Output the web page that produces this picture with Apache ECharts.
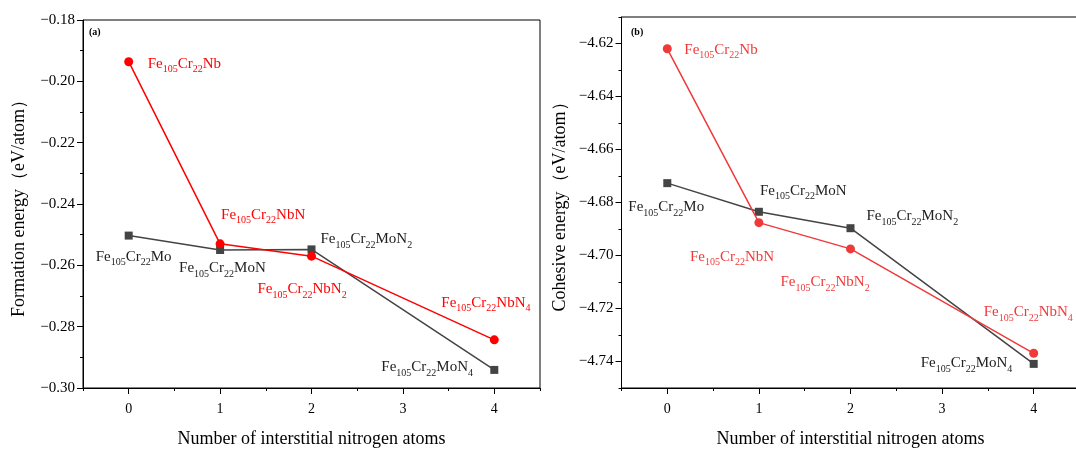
<!DOCTYPE html>
<html>
<head>
<meta charset="utf-8">
<script src="https://cdn.jsdelivr.net/npm/echarts@6/dist/echarts.min.js"></script>
<style>html,body{margin:0;padding:0;background:#fff;}#c{width:1076px;height:449px;}</style>
</head>
<body>
<div id="c"></div>
<script>
// ---- data ----
const nitrogen = [0, 1, 2, 4];
const formationMo = [-0.2503, -0.2550, -0.2548, -0.2941];
const formationNb = [-0.1936, -0.2530, -0.2570, -0.2843];
const cohesiveMo = [-4.6727, -4.6835, -4.6897, -4.7409];
const cohesiveNb = [-4.6220, -4.6876, -4.6975, -4.7369];
const moSuffix = ['Mo', 'MoN', 'MoN|2', 'MoN|4'];
const nbSuffix = ['Nb', 'NbN', 'NbN|2', 'NbN|4'];
const xTicks = [0, 1, 2, 3, 4];
const xMinorTicks = [-0.5, 0.5, 1.5, 2.5, 3.5, 4.5];
const cohTicks = [-4.74, -4.72, -4.70, -4.68, -4.66, -4.64, -4.62];
const cohMinorTicks = [-4.75, -4.73, -4.71, -4.69, -4.67, -4.65, -4.63, -4.61];

// ---- label placement (pixel offsets from the point) ----
const offFormMo = [[-33, 21], [-41, 18], [9, -10], [-113, -3]];
const offFormNb = [[19, 2], [1, -29], [-54, 33], [-53, -37]];
const offCohMo = [[-39, 24], [1, -21], [16, -12], [-113, -1]];
const offCohNb = [[17, 1], [-69, 34], [-70, 33], [-50, -41]];

const FONT = 'Liberation Serif';
const RED1 = '#ff0000', RED2 = '#f03a3a', GRAY = '#444444';

function formula(suffix) {
  const parts = suffix.split('|');
  let s = '{m|Fe}{s|105}{m|Cr}{s|22}{m|' + parts[0] + '}';
  if (parts[1]) s += '{s|' + parts[1] + '}';
  return s;
}
function richFor(color) {
  return {
    m: { fontFamily: FONT, fontSize: 15, color: color, lineHeight: 22, verticalAlign: 'middle' },
    s: { fontFamily: FONT, fontSize: 10, color: color, lineHeight: 10, verticalAlign: 'bottom' }
  };
}
function buildData(ys, names, offs, color) {
  return ys.map((y, i) => ({
    value: [nitrogen[i], y],
    label: {
      show: true, position: 'inside', align: 'left', verticalAlign: 'middle',
      offset: offs[i], formatter: formula(names[i]), rich: richFor(color)
    }
  }));
}
const minus = v => String(v).replace('-', '\u2212');

const axisText = { fontFamily: FONT, fontSize: 15, color: '#000' };
const nameText = { fontFamily: FONT, fontSize: 18, color: '#000' };
const lineStyleAx = { color: '#000', width: 1 };

function xMain(grid) {
  return {
    type: 'value', gridIndex: grid, min: -0.5, max: 4.5, position: 'bottom',
    name: 'Number of interstitial nitrogen atoms', nameLocation: 'middle', nameGap: 42,
    nameTextStyle: nameText,
    axisLine: { onZero: false, lineStyle: lineStyleAx },
    axisTick: { show: true, length: 6, customValues: xTicks, lineStyle: lineStyleAx },
    axisLabel: { customValues: xTicks, margin: 14, fontFamily: FONT, fontSize: 14, color: '#000' },
    splitLine: { show: false }
  };
}
function xMinor(grid) {
  return {
    type: 'value', gridIndex: grid, min: -0.5, max: 4.5, position: 'bottom',
    axisLine: { show: false, onZero: false },
    axisTick: { show: true, length: 3, customValues: xMinorTicks, lineStyle: lineStyleAx },
    axisLabel: { show: false },
    splitLine: { show: false }
  };
}

const option = {
  animation: false,
  backgroundColor: '#fff',
  grid: [
    { left: 83, top: 20, width: 457, height: 368, outerBoundsMode: 'none', containLabel: false, show: true, borderColor: '#000', borderWidth: 1, backgroundColor: 'transparent' },
    { left: 621.5, top: 17, width: 458, height: 371, outerBoundsMode: 'none', containLabel: false, show: true, borderColor: '#000', borderWidth: 1, backgroundColor: 'transparent' }
  ],
  xAxis: [xMain(0), xMinor(0), xMain(1), xMinor(1)],
  yAxis: [
    {
      type: 'value', gridIndex: 0, min: -0.30, max: -0.18, interval: 0.02, position: 'left',
      name: 'Formation energy\uff08eV/atom\uff09', nameLocation: 'middle', nameGap: 55,
      nameTextStyle: nameText,
      axisLine: { onZero: false, lineStyle: lineStyleAx },
      axisTick: { length: 6, lineStyle: lineStyleAx },
      minorTick: { show: true, splitNumber: 2, length: 3, lineStyle: lineStyleAx },
      axisLabel: Object.assign({ margin: 8, formatter: v => minus(v.toFixed(2)) }, axisText),
      splitLine: { show: false }, minorSplitLine: { show: false }
    },
    {
      type: 'value', gridIndex: 1, min: -4.75, max: -4.61, position: 'left',
      name: 'Cohesive energy\uff08eV/atom\uff09', nameLocation: 'middle', nameGap: 52,
      nameTextStyle: nameText,
      axisLine: { onZero: false, lineStyle: lineStyleAx },
      axisTick: { length: 6, customValues: cohTicks, lineStyle: lineStyleAx },
      axisLabel: Object.assign({ margin: 8, customValues: cohTicks, formatter: v => minus(v.toFixed(2)) }, axisText),
      splitLine: { show: false }
    },
    {
      type: 'value', gridIndex: 1, min: -4.75, max: -4.61, position: 'left',
      axisLine: { show: false, onZero: false },
      axisTick: { length: 3, customValues: cohMinorTicks, lineStyle: lineStyleAx },
      axisLabel: { show: false },
      splitLine: { show: false }
    }
  ],
  graphic: [
    { type: 'text', left: 89, top: 27, style: { text: '(a)', font: 'bold 10px "Liberation Serif"', fill: '#000' } },
    { type: 'text', left: 631, top: 27, style: { text: '(b)', font: 'bold 10px "Liberation Serif"', fill: '#000' } }
  ],
  series: [
    {
      type: 'line', xAxisIndex: 0, yAxisIndex: 0, symbol: 'rect', symbolSize: 8,
      lineStyle: { color: GRAY, width: 1.5 }, itemStyle: { color: GRAY },
      data: buildData(formationMo, moSuffix, offFormMo, '#222'), z: 2
    },
    {
      type: 'line', xAxisIndex: 0, yAxisIndex: 0, symbol: 'circle', symbolSize: 9,
      lineStyle: { color: RED1, width: 1.5 }, itemStyle: { color: RED1 },
      data: buildData(formationNb, nbSuffix, offFormNb, RED1), z: 3
    },
    {
      type: 'line', xAxisIndex: 2, yAxisIndex: 1, symbol: 'rect', symbolSize: 8,
      lineStyle: { color: GRAY, width: 1.5 }, itemStyle: { color: GRAY },
      data: buildData(cohesiveMo, moSuffix, offCohMo, '#222'), z: 2
    },
    {
      type: 'line', xAxisIndex: 2, yAxisIndex: 1, symbol: 'circle', symbolSize: 9,
      lineStyle: { color: RED2, width: 1.5 }, itemStyle: { color: RED2 },
      data: buildData(cohesiveNb, nbSuffix, offCohNb, RED2), z: 3
    }
  ]
};
const chart = echarts.init(document.getElementById('c'), null, { renderer: 'canvas' });
chart.setOption(option);
</script>
</body>
</html>
